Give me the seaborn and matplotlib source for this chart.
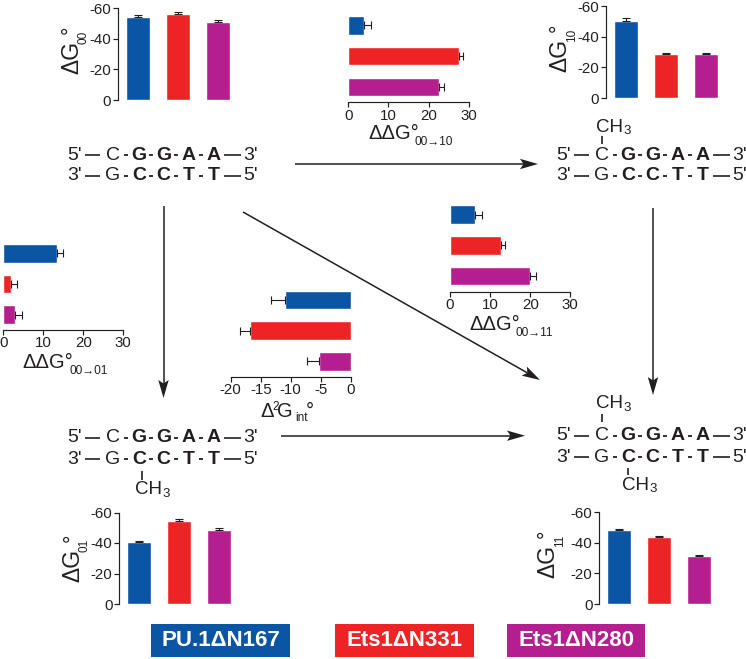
import numpy as np
import pandas as pd
import matplotlib
matplotlib.use("Agg")
import matplotlib.pyplot as plt
from matplotlib.patches import Polygon
import seaborn as sns

constructs = ["PU.1ΔN167", "Ets1ΔN331", "Ets1ΔN280"]
colors = ["#0B55A5", "#EE2326", "#B41E8E"]

dg00 = [-54.0, -56.3, -51.0]
dg00_err = [1.5, 0.8, 1.2]
dg10 = [-50.0, -28.5, -28.5]
dg10_err = [2.0, 0.6, 0.6]
dg01 = [-40.8, -54.5, -48.3]
dg01_err = [0.7, 1.2, 1.3]
dg11 = [-48.0, -43.5, -31.0]
dg11_err = [0.8, 0.8, 0.8]

ddg_10 = [3.8, 27.7, 22.5]
ddg_10_err = [1.9, 0.9, 1.3]
ddg_01 = [13.5, 1.8, 2.8]
ddg_01_err = [1.5, 1.5, 1.8]
ddg_11 = [6.2, 12.7, 20.0]
ddg_11_err = [1.7, 1.0, 1.4]
d2g_int = [-11.0, -16.8, -5.3]
d2g_int_err = [2.3, 1.6, 2.0]

v_ticks = [0, -20, -40, -60]
h_ticks = [0, 10, 20, 30]
int_ticks = [-20, -15, -10, -5, 0]

W, H = 746, 659
INK = "#231F20"
sns.set_theme(style="white")
plt.rcParams["font.family"] = ["Liberation Sans", "DejaVu Sans"]
plt.rcParams["axes.unicode_minus"] = False
plt.rcParams["text.color"] = INK
plt.rcParams["axes.labelcolor"] = INK
plt.rcParams["axes.edgecolor"] = INK
plt.rcParams["xtick.color"] = INK
plt.rcParams["ytick.color"] = INK

fig = plt.figure(figsize=(W / 100, H / 100), dpi=100)
fig.patch.set_facecolor("white")

overlay = fig.add_axes([0, 0, 1, 1], zorder=5)
overlay.set_xlim(0, W)
overlay.set_ylim(H, 0)
overlay.axis("off")
overlay.patch.set_alpha(0)


def px_axes(x0, y0, x1, y1):
    return fig.add_axes([x0 / W, 1 - y1 / H, (x1 - x0) / W, (y1 - y0) / H], zorder=2)


def style(ax, which):
    for s in ax.spines.values():
        s.set_visible(False)
    ax.spines[which].set_visible(True)
    ax.spines[which].set_linewidth(0.85)
    ax.patch.set_alpha(0)
    ax.set_xlabel("")
    ax.set_ylabel("")
    ax.tick_params(length=3.4, width=0.85, labelsize=10.8, pad=1.2, left=which == "left", bottom=which == "bottom")


def vbar(rect, vals, errs):
    ax = px_axes(*rect)
    df = pd.DataFrame({"c": constructs, "v": vals})
    sns.barplot(data=df, x="c", y="v", hue="c", palette=colors, width=0.6, legend=False, ax=ax, saturation=1)
    ax.errorbar(range(3), vals, yerr=[errs, [0, 0, 0]], fmt="none", ecolor=INK, elinewidth=0.8, capsize=3, capthick=0.8)
    ax.set_ylim(0, -60)
    ax.set_xlim(-0.5, 2.5)
    ax.set_yticks(v_ticks)
    ax.set_xticks([])
    style(ax, "left")


def hbar(rect, vals, errs, ticks, xlim, neg=False):
    ax = px_axes(*rect)
    df = pd.DataFrame({"c": constructs, "v": vals})
    sns.barplot(data=df, y="c", x="v", hue="c", palette=colors, width=0.6, legend=False, orient="h", ax=ax, saturation=1)
    xerr = [errs, [0, 0, 0]] if neg else [[0, 0, 0], errs]
    ax.errorbar(vals, range(3), xerr=xerr, fmt="none", ecolor=INK, elinewidth=0.8, capsize=3, capthick=0.8)
    ax.set_xlim(*xlim)
    ax.set_ylim(2.5, -0.5)
    ax.set_xticks(ticks)
    ax.set_yticks([])
    style(ax, "bottom")


vbar((117.5, 8, 237.5, 100), dg00, dg00_err)
vbar((605.5, 6, 725.5, 98), dg10, dg10_err)
vbar((119, 512.5, 239, 604), dg01, dg01_err)
vbar((599, 512, 719, 604), dg11, dg11_err)

hbar((348.3, 9.9, 468.7, 102.3), ddg_10, ddg_10_err, h_ticks, (0, 30))
hbar((3.3, 238, 123.3, 330), ddg_01, ddg_01_err, h_ticks, (0, 30))
hbar((450, 199.3, 570.3, 291.5), ddg_11, ddg_11_err, h_ticks, (0, 30))
hbar((230.7, 284.5, 350.7, 376.7), d2g_int, d2g_int_err, int_ticks, (-20, 0), neg=True)


def T(x, y, s, **kw):
    kw.setdefault("ha", "center")
    kw.setdefault("va", "center")
    kw.setdefault("fontsize", 14)
    overlay.text(x, y, s, **kw)


def L(xs, ys, lw=1.0):
    overlay.plot(xs, ys, color=INK, lw=lw, solid_capstyle="butt")


def duplex(dx, y1, y2):
    top = ["C", "G", "G", "A", "A"]
    bot = ["G", "C", "C", "T", "T"]
    xs = [113, 139, 163.5, 188.5, 213.5]
    for y, seq, e1, e2 in ((y1, top, "5'", "3'"), (y2, bot, "3'", "5'")):
        T(dx + 75, y, e1)
        T(dx + 251, y, e2)
        L([dx + 85, dx + 100], [y, y], 1.2)
        L([dx + 224, dx + 241], [y, y], 1.2)
        for i, (x, b) in enumerate(zip(xs, seq)):
            T(dx + x, y, b, fontweight="normal" if i == 0 else "bold")
        for x in (125.5, 150.5, 175.5, 200.5):
            L([dx + x - 2, dx + x + 2], [y, y], 1.3)


def methyl(x_tick, y0, y1, x_text, y_text):
    L([x_tick, x_tick], [y0, y1], 1.2)
    T(x_text, y_text, "CH", ha="left", fontsize=13.5)
    T(x_text + 27, y_text + 4, "3", ha="left", fontsize=9.5)


duplex(0, 155, 176)
duplex(489, 155, 176)
duplex(0, 438, 459)
duplex(489, 436, 457)
methyl(602, 136, 144, 596, 127)
methyl(602, 414, 422, 596, 404)
methyl(628, 468, 475, 622, 485)
methyl(141.7, 470.7, 480, 135, 490)


def arrow(x0, y0, x1, y1, length=18, half=5.2, notch=3.5):
    d = np.array([x1 - x0, y1 - y0], float)
    d /= np.hypot(*d)
    n = np.array([-d[1], d[0]])
    tip = np.array([x1, y1], float)
    base = tip - d * length
    L([x0, base[0] + d[0] * notch], [y0, base[1] + d[1] * notch], 1.1)
    overlay.add_patch(Polygon([tip, base + n * half, base + d * notch, base - n * half], closed=True, fc=INK, ec="none"))


arrow(295, 164, 538, 164)
arrow(163.5, 206, 163.5, 398)
arrow(243, 212, 540, 380)
arrow(653, 208, 653, 395)
arrow(281, 435.7, 525, 435.7)


def ylab(x, y_bot, sub):
    T(x, y_bot, "ΔG", rotation=90, va="bottom", fontsize=16.5)
    T(x + 12, y_bot - 37, sub, rotation=90, fontsize=8.5)
    T(x - 1.5, y_bot - 44, "°", rotation=90, fontsize=15)


ylab(71.7, 74, "00")
ylab(560, 72, "10")
ylab(73, 582, "01")
ylab(548, 578, "11")


def ddg(x, y, sub):
    T(x, y, "ΔΔG°", ha="left", va="baseline", fontsize=14.5)
    T(x + 46.5, y + 6, sub, ha="left", va="baseline", fontsize=8.6)


ddg(368, 139, "00→10")
ddg(22.7, 368, "00→01")
ddg(469.3, 330, "00→11")

T(260, 416.7, "Δ", ha="left", va="baseline", fontsize=14.5)
T(272, 410, "2", ha="left", va="baseline", fontsize=8.6)
T(277.5, 416.7, "G", ha="left", va="baseline", fontsize=14.5)
T(295, 421, "int", ha="left", va="baseline", fontsize=8.6)
T(306, 416.7, "°", ha="left", va="baseline", fontsize=14.5)

boxes = [(151.3, 290), (334.7, 473.7), (507, 645.3)]
for (x0, x1), c, name in zip(boxes, colors, constructs):
    overlay.add_patch(plt.Rectangle((x0, 624.3), x1 - x0, 33, fc=c, ec="none"))
    T((x0 + x1) / 2, 641, name, color="white", fontweight="bold", fontsize=16)

fig.savefig("out.png", dpi=100)
